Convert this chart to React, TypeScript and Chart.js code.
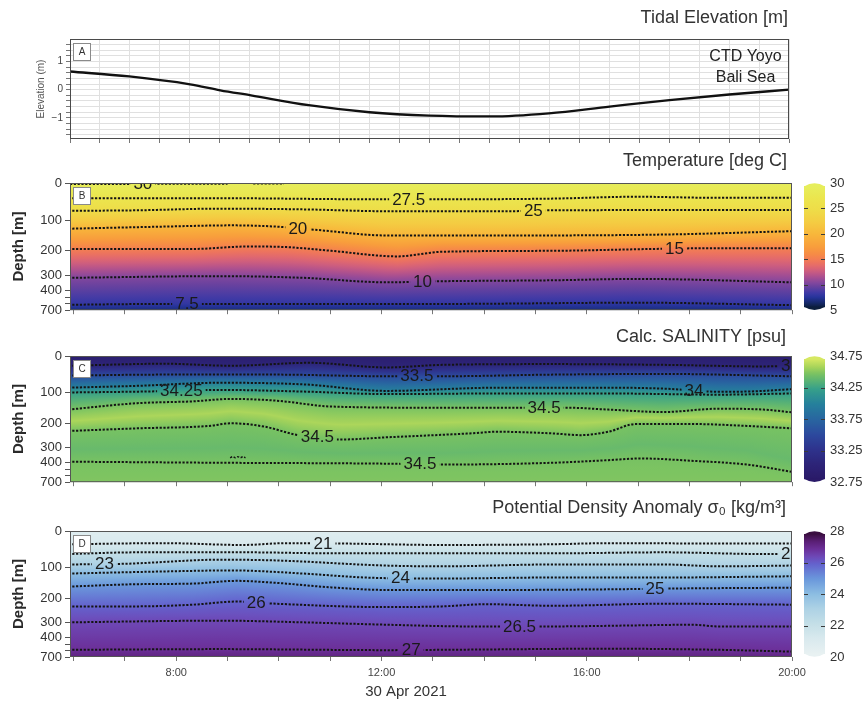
import React, { useEffect, useRef } from 'react';
import { Chart, registerables, LinearScale } from 'chart.js';

Chart.register(...registerables);
Chart.defaults.font.family = '"Liberation Sans", Arial, Helvetica, sans-serif';

// ================= axes / ticks =================
const timeMin = 5.93;
const timeMax = 20;
const timeTicks = [6, 7, 8, 9, 10, 11, 12, 13, 14, 15, 16, 17, 18, 19, 20];
const timeLabelTicks = [8, 12, 16, 20];
const depthTicks = [0, 100, 200, 300, 400, 500, 600, 700];
const depthLabelTicks = [0, 100, 200, 300, 400, 700];
const depthAxisBreaks = [0, 100, 200, 300, 400, 700];
const depthAxisFracs = [0, 0.292, 0.533, 0.725, 0.846, 1];
const elevTicks = [-1.6, -1.4, -1.2, -1, -0.8, -0.6, -0.4, -0.2, 0, 0.2, 0.4, 0.6, 0.8, 1, 1.2, 1.4, 1.6];
const elevLabelTicks = [-1, 0, 1];
const tempCbTicks = [5, 10, 15, 20, 25, 30];
const salCbTicks = [32.75, 33.25, 33.75, 34.25, 34.75];
const densCbTicks = [20, 22, 24, 26, 28];

// ================= Panel A: tide =================
const tideHours = [5.9, 7.09, 8.28, 8.87, 9.47, 10.6, 11.79, 12.96, 14.17, 15.3, 16.49, 17.66, 18.83, 20.0];
const tideElevation = [0.65, 0.47, 0.19, -0.02, -0.2, -0.55, -0.8, -0.92, -0.95, -0.84, -0.6, -0.37, -0.17, 0.0];

// ================= Panel B: temperature contours [hour, depth] =================
const temp30 = [[5.93, 3], [7.0, 2.5], [7.8, 2.2], [9.0, 2], [9.25, null], [9.5, 1.5], [10.1, 1.5]];
const temp30Labels = [7.35];
const temp27_5 = [[5.9, 41], [8.86, 41], [11.99, 44], [13.07, 44], [15.34, 42], [16.96, 37], [18.58, 40], [20, 40]];
const temp27_5Labels = [12.53];
const temp25 = [[5.9, 75], [7.24, 73.5], [8.86, 69], [10.48, 71], [12.1, 76], [14.47, 76], [15.34, 73.5], [20, 72.5]];
const temp25Labels = [14.96];
const temp20 = [[5.9, 128], [7.78, 121], [9.07, 117], [9.94, 121], [10.75, 132], [12.1, 150], [14.26, 150], [17.5, 147], [20, 136]];
const temp20Labels = [10.37];
const temp15 = [[5.9, 194], [8.32, 194], [9.4, 186], [10.15, 188], [11.02, 200], [12.31, 223], [13.18, 204], [15.34, 200], [17.28, 194], [18.14, 192], [20, 192]];
const temp15Labels = [17.71];
const temp10 = [[5.9, 317], [8.86, 306], [10.48, 317], [12.1, 346], [13.18, 339], [15.34, 333], [16.96, 324], [20, 346]];
const temp10Labels = [12.8];
const temp7_5 = [[5.9, 617], [7.78, 604], [8.53, 604], [13.18, 604], [16.96, 585], [20, 623]];
const temp7_5Labels = [8.21];
const tempSurface = 29.9;
const tempBottom = 6.2;

// ================= Panel C: salinity contours =================
const sal33 = [[5.9, 26.5], [7.78, 21], [9.07, 26.5], [10.59, 18.5], [12.1, 31], [13.18, 24], [15.34, 22], [17.5, 24], [19.44, 28.3], [20, 26]];
const sal33Labels = [19.97];
const sal33_5 = [[5.9, 53], [7.78, 50.5], [9.94, 50.5], [12.1, 55], [13.18, 55], [15.34, 50.5], [17.5, 48.7], [20, 55]];
const sal33_5Labels = [12.69];
const sal34 = [[5.9, 86], [7.24, 81], [8.86, 72.6], [10.48, 77], [12.1, 94.7], [14.26, 86], [16.42, 86], [17.5, 88.5], [18.58, 97], [19.12, 96.5], [20, 90]];
const sal34Labels = [18.09];
const sal34_25 = [[5.9, 99], [7.35, 96.5], [8.86, 92], [10.48, 96.5], [12.1, 104], [14.26, 102], [16.42, 102], [18.58, 106], [20, 102]];
const sal34_25Labels = [8.1];
const sal34_5a = [[5.9, 155], [7.24, 134], [8.32, 128], [9.07, 120], [9.94, 125.5], [11.02, 145], [13.18, 149], [14.69, 149], [15.66, 149], [16.42, 155], [17.5, 163], [18.58, 152], [19.44, 155], [20, 164]];
const sal34_5aLabels = [15.17];
const sal34_5b = [[5.9, 232], [7.24, 221], [8.64, 211], [9.07, 200], [9.72, 214], [10.37, 249], [11.23, 267], [12.1, 258], [13.72, 242], [14.26, 235], [15.34, 242], [15.88, 249], [16.42, 235], [16.96, 203], [18.04, 203], [19.12, 211], [20, 221]];
const sal34_5bLabels = [10.75];
const sal34_5c = [[5.9, 393], [8.86, 400], [12.1, 414], [13.18, 428], [15.34, 400], [16.42, 383], [17.06, 372], [18.04, 387], [19.12, 428], [20, 540]];
const sal34_5cLabels = [12.75];
const sal34_5Eddy = [[9.05, 367], [9.1, 360], [9.15, 367], [9.2, 360], [9.25, 367], [9.3, 360], [9.35, 367]];
const salSurface = 32.85;
const salCore = 34.63;
const salDeep = 34.44;
const salBottom = 34.52;

// ================= Panel D: density contours =================
const dens21 = [[5.9, 36], [7.78, 33], [9.29, 38], [10.15, 33], [11.23, 34], [13.18, 38], [15.34, 36], [16.42, 33], [18.58, 34], [20, 34]];
const dens21Labels = [10.86];
const dens22 = [[5.9, 62.5], [7.24, 58], [9.4, 58], [11.02, 60.7], [15.34, 60.7], [17.5, 58], [19.44, 62.5], [20, 62]];
const dens22Labels = [19.97];
const dens23 = [[5.9, 91], [7.02, 89], [8.86, 78], [9.94, 80], [12.1, 94], [13.18, 96], [15.34, 91], [17.5, 91], [18.58, 96], [20, 94]];
const dens23Labels = [6.6];
const dens24 = [[5.9, 119], [7.78, 112], [9.07, 108.6], [10.48, 119], [11.67, 132], [13.07, 135.5], [15.34, 132], [17.5, 132], [20, 128]];
const dens24Labels = [12.37];
const dens25 = [[5.9, 162], [7.24, 154], [8.32, 152], [9.18, 143], [9.94, 149.5], [11.02, 164.5], [12.1, 173], [14.26, 173], [16.42, 171], [17.82, 168], [20, 165.6]];
const dens25Labels = [17.33];
const dens26 = [[5.9, 234], [7.24, 234], [8.32, 227], [9.18, 214], [9.94, 223], [12.1, 237], [13.18, 234], [14.04, 225], [15.34, 231.5], [17.5, 223], [20, 227]];
const dens26Labels = [9.56];
const dens26_5 = [[5.9, 300], [8.86, 293], [10.48, 300], [12.1, 315.6], [13.72, 326.7], [15.34, 326.7], [16.96, 320], [18.04, 315.6], [18.58, 326.7], [20, 326.7]];
const dens26_5Labels = [14.69];
const dens27 = [[5.9, 589], [8.86, 578], [12.1, 594], [13.18, 589], [16.42, 572], [18.58, 589], [20, 617]];
const dens27Labels = [12.58];
const densSurface = 20.6;
const densBottom = 27.35;

// ================= colour maps =================
const thermalStops: [number, string][] = [
  [5, '#0c1e3c'], [6, '#172a6e'], [7, '#25339a'], [8, '#3f3aa6'], [9, '#60409f'], [10, '#82479e'],
  [11, '#a24d93'], [12, '#c15886'], [13, '#da6475'], [14, '#eb7162'], [15, '#f37f52'], [16, '#f68c45'],
  [17.5, '#f89e3c'], [20, '#f8b63b'], [22.5, '#f4cc42'], [25, '#eedc48'], [27.5, '#ebe54e'], [30, '#e6ee5c'],
];
const halineStops: [number, string][] = [
  [32.75, '#2a1a68'], [33, '#2d2478'], [33.25, '#2e338d'], [33.5, '#2c4a9e'], [33.75, '#2866a0'],
  [34, '#25809c'], [34.25, '#36a08a'], [34.5, '#78c262'], [34.62, '#a8d45a'], [34.75, '#d6e862'],
];
const denseStops: [number, string][] = [
  [20, '#e8f1f2'], [21, '#d9eaee'], [22, '#c4dfe7'], [23, '#aed2e5'], [24, '#8cbde2'], [25, '#6a98dc'],
  [26, '#6462cd'], [26.5, '#6e48b6'], [27, '#6b2f98'], [27.5, '#5a1f76'], [28, '#3a0e40'],
];

// ================= helpers =================
function depthToFrac(d: number) {
  const b = depthAxisBreaks, f = depthAxisFracs;
  let i = 0;
  while (i < b.length - 2 && d > b[i + 1]) i++;
  return f[i] + ((d - b[i]) / (b[i + 1] - b[i])) * (f[i + 1] - f[i]);
}
function fracToDepth(q: number) {
  const b = depthAxisBreaks, f = depthAxisFracs;
  let i = 0;
  while (i < f.length - 2 && q > f[i + 1]) i++;
  return b[i] + ((q - f[i]) / (f[i + 1] - f[i])) * (b[i + 1] - b[i]);
}

class DepthScale extends LinearScale {
  static id = 'depth';
  static defaults = {};
  getPixelForValue(value: any) {
    if (value === null || value === undefined || Number.isNaN(+value)) return NaN;
    const s: any = this;
    return s.top + depthToFrac(+value) * (s.bottom - s.top);
  }
  getValueForPixel(pixel: number) {
    const s: any = this;
    return fracToDepth((pixel - s.top) / (s.bottom - s.top));
  }
}
Chart.register(DepthScale as any);

function hexToRgb(h: string) {
  const n = parseInt(h.slice(1), 16);
  return [(n >> 16) & 255, (n >> 8) & 255, n & 255];
}
function makeCmap(stops: [number, string][]) {
  const s = stops.map(([v, c]) => [v, hexToRgb(c)] as [number, number[]]);
  const fmt = (c: number[]) => `rgb(${Math.round(c[0])},${Math.round(c[1])},${Math.round(c[2])})`;
  return (v: number) => {
    if (v <= s[0][0]) return fmt(s[0][1]);
    for (let i = 1; i < s.length; i++) {
      if (v <= s[i][0]) {
        const t = (v - s[i - 1][0]) / (s[i][0] - s[i - 1][0]);
        const a = s[i - 1][1], b = s[i][1];
        return fmt([a[0] + (b[0] - a[0]) * t, a[1] + (b[1] - a[1]) * t, a[2] + (b[2] - a[2]) * t]);
      }
    }
    return fmt(s[s.length - 1][1]);
  };
}

function depthAt(pts: any[], h: number) {
  const p = pts.filter((q) => q[1] !== null);
  if (h <= p[0][0]) return p[0][1];
  for (let i = 1; i < p.length; i++) {
    if (h <= p[i][0]) {
      const t = (h - p[i - 1][0]) / (p[i][0] - p[i - 1][0]);
      return p[i - 1][1] + t * (p[i][1] - p[i - 1][1]);
    }
  }
  return p[p.length - 1][1];
}

const LABEL_FONT = '17px "Liberation Sans", Arial, sans-serif';
const TITLE_FONT = '18px "Liberation Sans", Arial, sans-serif';

function labelBoxes(chart: any, c: any) {
  const ctx = chart.ctx;
  const xs = chart.scales.x, ys = chart.scales.y;
  ctx.save();
  ctx.font = LABEL_FONT;
  const out = (c.labels || []).map((h: number) => {
    const text = c.text || String(c.level);
    const w = ctx.measureText(text).width;
    const cx = xs.getPixelForValue(h);
    const cy = ys.getPixelForValue(depthAt(c.pts, h));
    return { x: cx - w / 2 - 3, y: cy - 7, w: w + 6, h: 14, cx, cy, text };
  });
  ctx.restore();
  return out;
}

function columnStops(shade: any[], h: number, depthMax: number) {
  const out = shade.map((s) => {
    if (s.kind === 'surface') return { d: 0, v: s.value };
    if (s.kind === 'bottom') return { d: depthMax, v: s.value };
    if (s.kind === 'contour') return { d: depthAt(s.pts, h), v: s.value };
    return { d: NaN, v: s.value };
  });
  for (let i = 0; i < out.length; i++) {
    if (Number.isNaN(out[i].d)) out[i].d = (out[i - 1].d + out[i + 1].d) / 2;
  }
  return out;
}

function drawField(chart: any, cfg: any) {
  const { ctx, chartArea: a } = chart;
  const xs = chart.scales.x, ys = chart.scales.y;
  const N = 6;
  ctx.save();
  ctx.beginPath();
  ctx.rect(a.left, a.top, a.right - a.left, a.bottom - a.top);
  ctx.clip();
  const H = a.bottom - a.top;
  for (let px = Math.floor(a.left); px < a.right; px += 1) {
    const h = xs.getValueForPixel(px + 0.5);
    const st = columnStops(cfg.shade, h, 700);
    const g = ctx.createLinearGradient(0, a.top, 0, a.bottom);
    let last = 0;
    for (let i = 0; i < st.length - 1; i++) {
      const y0 = ys.getPixelForValue(st[i].d), y1 = ys.getPixelForValue(st[i + 1].d);
      for (let k = i === 0 ? 0 : 1; k <= N; k++) {
        const t = k / N;
        let f = (y0 + (y1 - y0) * t - a.top) / H;
        f = Math.min(1, Math.max(last, f));
        last = f;
        g.addColorStop(f, cfg.cmap(st[i].v + (st[i + 1].v - st[i].v) * t));
      }
    }
    ctx.fillStyle = g;
    ctx.fillRect(px, a.top, 1, H);
  }
  ctx.restore();
}

function drawColorbar(chart: any, cfg: any) {
  const ctx = chart.ctx;
  const cb = chart.scales.cb;
  const x0 = cb.left + 12, w = 21;
  const yT = cb.getPixelForValue(cfg.cbMax), yB = cb.getPixelForValue(cfg.cbMin);
  const cap = 3;
  ctx.save();
  const g = ctx.createLinearGradient(0, yT + cap, 0, yB - cap);
  const n = 60;
  for (let k = 0; k <= n; k++) {
    const v = cfg.cbMax - ((cfg.cbMax - cfg.cbMin) * k) / n;
    g.addColorStop(k / n, cfg.cmap(v));
  }
  ctx.fillStyle = g;
  ctx.fillRect(x0, yT + cap, w, yB - yT - 2 * cap);
  ctx.fillStyle = cfg.cmap(cfg.cbMax);
  ctx.beginPath();
  ctx.moveTo(x0, yT + cap + 0.5);
  ctx.quadraticCurveTo(x0 + w / 2, yT - cap, x0 + w, yT + cap + 0.5);
  ctx.closePath();
  ctx.fill();
  ctx.fillStyle = cfg.cmap(cfg.cbMin);
  ctx.beginPath();
  ctx.moveTo(x0, yB - cap - 0.5);
  ctx.quadraticCurveTo(x0 + w / 2, yB + cap, x0 + w, yB - cap - 0.5);
  ctx.closePath();
  ctx.fill();
  ctx.strokeStyle = '#3a3a3a';
  ctx.lineWidth = 1;
  cfg.cbTicks.slice(1, -1).forEach((v: number) => {
    const y = Math.round(cb.getPixelForValue(v)) + 0.5;
    ctx.beginPath();
    ctx.moveTo(x0, y); ctx.lineTo(x0 + 4, y);
    ctx.moveTo(x0 + w - 4, y); ctx.lineTo(x0 + w, y);
    ctx.stroke();
  });
  ctx.restore();
}

function makePanelPlugin(cfg: any) {
  let clipped = false;
  return {
    id: 'panel' + cfg.letter,
    beforeDatasetsDraw(chart: any) {
      if (cfg.shade) drawField(chart, cfg);
    },
    beforeDatasetDraw(chart: any, args: any) {
      clipped = false;
      const c = cfg.contours && cfg.contours[args.index];
      if (!c || !c.labels || !c.labels.length) return;
      const boxes = labelBoxes(chart, c);
      const ctx = chart.ctx;
      ctx.save();
      ctx.beginPath();
      ctx.rect(0, 0, chart.width, chart.height);
      boxes.forEach((b: any) => ctx.rect(b.x, b.y, b.w, b.h));
      ctx.clip('evenodd');
      clipped = true;
    },
    afterDatasetDraw(chart: any) {
      if (clipped) {
        chart.ctx.restore();
        clipped = false;
      }
    },
    afterDatasetsDraw(chart: any) {
      const { ctx, chartArea: a } = chart;
      if (cfg.contours) {
        ctx.save();
        ctx.beginPath();
        ctx.rect(a.left, a.top, a.right - a.left, a.bottom - a.top);
        ctx.clip();
        cfg.contours.forEach((c: any) => {
          labelBoxes(chart, c).forEach((b: any) => {
            ctx.font = LABEL_FONT;
            ctx.fillStyle = '#1a1a1a';
            ctx.textAlign = 'center';
            ctx.textBaseline = 'middle';
            ctx.fillText(b.text, b.cx, b.cy + 0.5);
          });
        });
        ctx.restore();
      }
      ctx.save();
      ctx.strokeStyle = cfg.frameColor;
      ctx.lineWidth = 1;
      ctx.strokeRect(a.left + 0.5, a.top + 0.5, a.right - a.left - 1, a.bottom - a.top - 1);
      // letter box
      ctx.fillStyle = '#ffffff';
      ctx.fillRect(a.left + 3, a.top + 4, 18, 18);
      ctx.strokeStyle = '#8a8a8a';
      ctx.strokeRect(a.left + 3.5, a.top + 4.5, 17, 17);
      ctx.fillStyle = '#333';
      ctx.font = '10px "Liberation Sans", Arial, sans-serif';
      ctx.textAlign = 'center';
      ctx.textBaseline = 'middle';
      ctx.fillText(cfg.letter, a.left + 12, a.top + 13.5);
      ctx.restore();
    },
    afterDraw(chart: any) {
      const { ctx, chartArea: a } = chart;
      ctx.save();
      ctx.font = TITLE_FONT;
      ctx.fillStyle = '#333';
      ctx.textAlign = 'right';
      ctx.textBaseline = 'middle';
      ctx.fillText(cfg.title, a.right - cfg.titleDx, a.top - cfg.titleDy);
      ctx.restore();
      if (cfg.cmap && chart.scales.cb) drawColorbar(chart, cfg);
      if (cfg.extra) cfg.extra(chart);
    },
  };
}

function baseX(cfg: any) {
  return {
    type: 'linear',
    min: timeMin,
    max: timeMax,
    bounds: 'data',
    afterBuildTicks: (s: any) => { s.ticks = timeTicks.map((v) => ({ value: v })); },
    afterFit: (s: any) => { s.height = cfg.xHeight; },
    grid: { display: true, drawOnChartArea: false, drawTicks: true, tickLength: 4, color: '#777' },
    border: { display: false },
    ticks: {
      autoSkip: false,
      maxRotation: 0,
      padding: 5,
      font: { size: 11 },
      color: '#444',
      callback: (v: any) => (cfg.showTimeLabels && timeLabelTicks.includes(v) ? `${v}:00` : ''),
    },
  };
}

function makeFieldChart(canvas: HTMLCanvasElement, cfg: any) {
  const datasets = cfg.contours.map((c: any) => ({
    data: c.pts.map((p: any) => ({ x: p[0], y: p[1] })),
    yAxisID: 'y',
    borderColor: '#141414',
    borderWidth: c.width || 2,
    borderDash: [2.2, 1.6],
    pointRadius: 0,
    pointHoverRadius: 0,
    cubicInterpolationMode: 'monotone',
    spanGaps: false,
    fill: false,
  }));
  return new Chart(canvas, {
    type: 'line',
    data: { datasets },
    options: {
      animation: false,
      responsive: false,
      events: [],
      layout: { padding: { top: cfg.padTop, left: 0, right: 0, bottom: 0 } },
      plugins: { legend: { display: false }, tooltip: { enabled: false }, title: { display: false } },
      scales: {
        x: baseX(cfg),
        y: {
          type: 'depth',
          position: 'left',
          min: 0,
          max: 700,
          bounds: 'data',
          afterBuildTicks: (s: any) => { s.ticks = depthTicks.map((v) => ({ value: v })); },
          afterFit: (s: any) => { s.width = 70; },
          grid: { display: true, drawOnChartArea: false, drawTicks: true, tickLength: 5, color: '#555' },
          border: { display: false },
          ticks: {
            autoSkip: false,
            padding: 3,
            font: { size: 13 },
            color: '#333',
            callback: (v: any) => (depthLabelTicks.includes(v) ? String(v) : ''),
          },
          title: { display: true, text: 'Depth [m]', font: { size: 15, weight: 'bold' }, color: '#2a2a2a', padding: { top: 10, bottom: 0 } },
        },
        cb: {
          type: 'linear',
          position: 'right',
          min: cfg.cbMin,
          max: cfg.cbMax,
          bounds: 'data',
          afterBuildTicks: (s: any) => { s.ticks = cfg.cbTicks.map((v: number) => ({ value: v })); },
          afterFit: (s: any) => { s.width = 73; },
          grid: { display: false, drawTicks: true, tickLength: 36 },
          border: { display: false },
          ticks: { autoSkip: false, padding: 2, font: { size: 13 }, color: '#333', callback: (v: any) => String(v) },
        },
      },
    } as any,
    plugins: [makePanelPlugin(cfg)],
  } as any);
}

function makeTideChart(canvas: HTMLCanvasElement) {
  const cfg = {
    letter: 'A',
    title: 'Tidal Elevation [m]',
    titleDx: 1,
    titleDy: 21,
    frameColor: '#4a4a4a',
    extra: (chart: any) => {
      const { ctx, chartArea: a } = chart;
      ctx.save();
      ctx.font = '16px "Liberation Sans", Arial, sans-serif';
      ctx.fillStyle = '#222';
      ctx.textAlign = 'center';
      ctx.textBaseline = 'middle';
      ctx.fillText('CTD Yoyo', a.right - 43.5, a.top + 18);
      ctx.fillText('Bali Sea', a.right - 43.5, a.top + 38.5);
      ctx.restore();
    },
  };
  return new Chart(canvas, {
    type: 'line',
    data: {
      datasets: [
        {
          data: tideHours.map((h, i) => ({ x: h, y: tideElevation[i] })),
          borderColor: '#111',
          borderWidth: 2.3,
          pointRadius: 0,
          cubicInterpolationMode: 'monotone',
          fill: false,
        },
      ],
    },
    options: {
      animation: false,
      responsive: false,
      events: [],
      layout: { padding: { top: 39, right: 76, left: 0, bottom: 0 } },
      plugins: { legend: { display: false }, tooltip: { enabled: false }, title: { display: false } },
      scales: {
        x: {
          type: 'linear',
          min: timeMin,
          max: timeMax,
          bounds: 'data',
          afterBuildTicks: (s: any) => {
            const n = 24;
            s.ticks = Array.from({ length: n + 1 }, (_, i) => ({ value: s.min + ((s.max - s.min) * i) / n }));
          },
          afterFit: (s: any) => { s.height = 11; },
          grid: { color: '#e0e0e0', tickColor: '#777', tickLength: 4, drawTicks: true },
          border: { display: false },
          ticks: { autoSkip: false, maxRotation: 0, callback: () => '' },
        },
        y: {
          type: 'linear',
          min: -1.75,
          max: 1.8,
          bounds: 'data',
          afterBuildTicks: (s: any) => { s.ticks = elevTicks.map((v) => ({ value: v })); },
          afterFit: (s: any) => { s.width = 70; },
          grid: { color: '#e0e0e0', tickColor: '#777', tickLength: 4, drawTicks: true },
          border: { display: false },
          ticks: {
            autoSkip: false,
            padding: 3,
            font: { size: 10 },
            color: '#444',
            callback: (v: any) =>
              elevLabelTicks.some((l) => Math.abs(l - v) < 1e-9)
                ? v < 0 ? '\u2212' + Math.abs(v) : String(Math.round(v))
                : '',
          },
          title: { display: true, text: 'Elevation (m)', font: { size: 10 }, color: '#555', padding: { top: 35, bottom: 0 } },
        },
      },
    } as any,
    plugins: [makePanelPlugin(cfg)],
  } as any);
}

const tempCfg = {
  letter: 'B',
  title: 'Temperature [deg C]',
  titleDx: 5,
  titleDy: 21.5,
  frameColor: '#555',
  padTop: 33,
  xHeight: 10,
  showTimeLabels: false,
  cmap: makeCmap(thermalStops),
  cbMin: 5,
  cbMax: 30,
  cbTicks: tempCbTicks,
  contours: [
    { level: 30, pts: temp30, labels: temp30Labels },
    { level: 27.5, pts: temp27_5, labels: temp27_5Labels },
    { level: 25, pts: temp25, labels: temp25Labels },
    { level: 20, pts: temp20, labels: temp20Labels },
    { level: 15, pts: temp15, labels: temp15Labels },
    { level: 10, pts: temp10, labels: temp10Labels },
    { level: 7.5, pts: temp7_5, labels: temp7_5Labels },
  ],
  shade: [
    { kind: 'surface', value: tempSurface },
    { kind: 'contour', value: 27.5, pts: temp27_5 },
    { kind: 'contour', value: 25, pts: temp25 },
    { kind: 'contour', value: 20, pts: temp20 },
    { kind: 'contour', value: 15, pts: temp15 },
    { kind: 'contour', value: 10, pts: temp10 },
    { kind: 'contour', value: 7.5, pts: temp7_5 },
    { kind: 'bottom', value: tempBottom },
  ],
};

const salCfg = {
  letter: 'C',
  title: 'Calc. SALINITY [psu]',
  titleDx: 6,
  titleDy: 19,
  frameColor: '#555',
  padTop: 35,
  xHeight: 10,
  showTimeLabels: false,
  cmap: makeCmap(halineStops),
  cbMin: 32.75,
  cbMax: 34.75,
  cbTicks: salCbTicks,
  contours: [
    { level: 33, pts: sal33, labels: sal33Labels },
    { level: 33.5, pts: sal33_5, labels: sal33_5Labels },
    { level: 34, pts: sal34, labels: sal34Labels },
    { level: 34.25, pts: sal34_25, labels: sal34_25Labels },
    { level: 34.5, pts: sal34_5a, labels: sal34_5aLabels },
    { level: 34.5, pts: sal34_5b, labels: sal34_5bLabels },
    { level: 34.5, pts: sal34_5c, labels: sal34_5cLabels },
    { level: 34.5, pts: sal34_5Eddy, labels: [], width: 1.5 },
  ],
  shade: [
    { kind: 'surface', value: salSurface },
    { kind: 'contour', value: 33, pts: sal33 },
    { kind: 'contour', value: 33.5, pts: sal33_5 },
    { kind: 'contour', value: 34, pts: sal34 },
    { kind: 'contour', value: 34.25, pts: sal34_25 },
    { kind: 'contour', value: 34.5, pts: sal34_5a },
    { kind: 'between', value: salCore },
    { kind: 'contour', value: 34.5, pts: sal34_5b },
    { kind: 'between', value: salDeep },
    { kind: 'contour', value: 34.5, pts: sal34_5c },
    { kind: 'bottom', value: salBottom },
  ],
};

const densCfg = {
  letter: 'D',
  title: 'Potential Density Anomaly \u03c3\u2080 [kg/m\u00b3]',
  titleDx: 6,
  titleDy: 22.5,
  frameColor: '#555',
  padTop: 38,
  xHeight: 45,
  showTimeLabels: true,
  cmap: makeCmap(denseStops),
  cbMin: 20,
  cbMax: 28,
  cbTicks: densCbTicks,
  contours: [
    { level: 21, pts: dens21, labels: dens21Labels },
    { level: 22, pts: dens22, labels: dens22Labels },
    { level: 23, pts: dens23, labels: dens23Labels },
    { level: 24, pts: dens24, labels: dens24Labels },
    { level: 25, pts: dens25, labels: dens25Labels },
    { level: 26, pts: dens26, labels: dens26Labels },
    { level: 26.5, pts: dens26_5, labels: dens26_5Labels },
    { level: 27, pts: dens27, labels: dens27Labels },
  ],
  shade: [
    { kind: 'surface', value: densSurface },
    { kind: 'contour', value: 21, pts: dens21 },
    { kind: 'contour', value: 22, pts: dens22 },
    { kind: 'contour', value: 23, pts: dens23 },
    { kind: 'contour', value: 24, pts: dens24 },
    { kind: 'contour', value: 25, pts: dens25 },
    { kind: 'contour', value: 26, pts: dens26 },
    { kind: 'contour', value: 26.5, pts: dens26_5 },
    { kind: 'contour', value: 27, pts: dens27 },
    { kind: 'bottom', value: densBottom },
  ],
  extra: (chart: any) => {
    const { ctx, chartArea: a } = chart;
    ctx.save();
    ctx.font = '15px "Liberation Sans", Arial, sans-serif';
    ctx.fillStyle = '#333';
    ctx.textAlign = 'center';
    ctx.textBaseline = 'middle';
    ctx.fillText('30 Apr 2021', a.left + 336, a.bottom + 35);
    ctx.restore();
  },
};

export default function App() {
  const rA = useRef<HTMLCanvasElement>(null);
  const rB = useRef<HTMLCanvasElement>(null);
  const rC = useRef<HTMLCanvasElement>(null);
  const rD = useRef<HTMLCanvasElement>(null);
  useEffect(() => {
    const charts = [
      makeTideChart(rA.current as HTMLCanvasElement),
      makeFieldChart(rB.current as HTMLCanvasElement, tempCfg),
      makeFieldChart(rC.current as HTMLCanvasElement, salCfg),
      makeFieldChart(rD.current as HTMLCanvasElement, densCfg),
    ];
    return () => charts.forEach((c) => c.destroy());
  }, []);
  const cs = (top: number): React.CSSProperties => ({ position: 'absolute', left: 0, top, display: 'block' });
  return (
    <div style={{ position: 'absolute', left: 0, top: 0, width: 865, height: 702, background: '#fff', overflow: 'hidden' }}>
      <canvas ref={rA} width={865} height={150} style={cs(0)} />
      <canvas ref={rB} width={865} height={171} style={cs(150)} />
      <canvas ref={rC} width={865} height={172} style={cs(321)} />
      <canvas ref={rD} width={865} height={209} style={cs(493)} />
    </div>
  );
}
